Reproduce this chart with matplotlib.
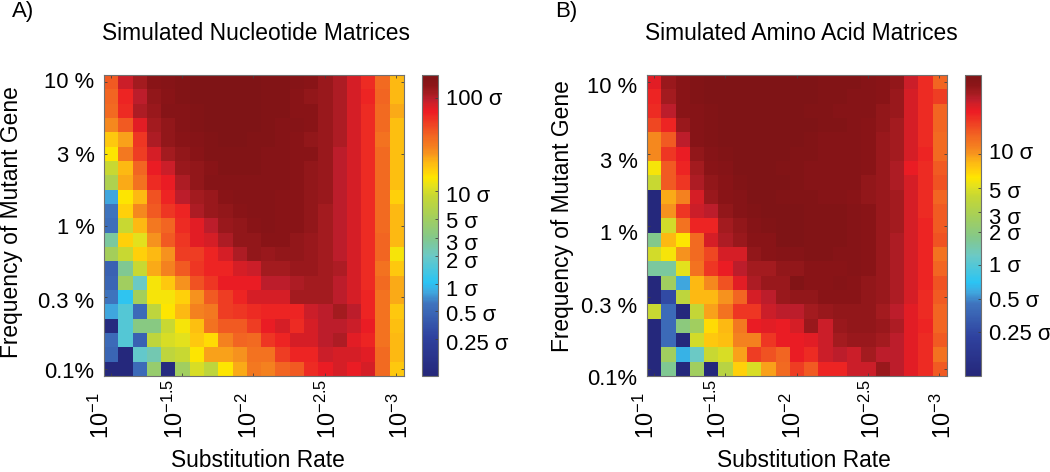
"""Heatmaps of simulated nucleotide / amino acid matrices (panels A and B)."""
import numpy as np
import matplotlib
matplotlib.use("Agg")
import matplotlib.pyplot as plt
from matplotlib.colors import LinearSegmentedColormap
from matplotlib.transforms import ScaledTranslation

plt.rcParams["font.family"] = ["Liberation Sans", "DejaVu Sans"]
plt.rcParams["mathtext.fontset"] = "custom"
plt.rcParams["mathtext.rm"] = "Liberation Sans"
plt.rcParams["mathtext.default"] = "regular"

RATE_LABELS = [r"$10^{-1}$", r"$10^{-1.5}$", r"$10^{-2}$", r"$10^{-2.5}$", r"$10^{-3}$"]
FREQ_LABELS = ["10 %", "3 %", "1 %", "0.3 %", "0.1%"]

# cell values as position on the colour scale (0-100), top row first
NUCLEOTIDE = np.array([
    [81, 91, 94, 97, 98, 99, 100, 100, 100, 100, 100, 99, 99, 98, 97, 95, 93, 90, 86, 79, 71],
    [80, 87, 92, 96, 97, 99, 100, 100, 100, 100, 100, 99, 99, 97, 96, 95, 93, 90, 87, 80, 71],
    [79, 86, 93, 95, 98, 98, 99, 100, 100, 100, 100, 99, 99, 97, 97, 95, 93, 90, 86, 79, 72],
    [75, 81, 89, 94, 96, 98, 99, 100, 100, 100, 100, 99, 98, 98, 97, 95, 93, 90, 86, 79, 70],
    [69, 73, 85, 93, 96, 97, 98, 99, 100, 100, 99, 99, 98, 97, 96, 95, 93, 90, 86, 78, 70],
    [66, 77, 84, 90, 94, 96, 97, 99, 99, 99, 99, 98, 98, 97, 97, 95, 92, 90, 86, 79, 70],
    [60, 71, 80, 88, 91, 95, 96, 97, 99, 99, 99, 98, 98, 97, 96, 95, 92, 90, 86, 79, 70],
    [55, 72, 78, 86, 88, 93, 96, 98, 98, 98, 98, 98, 98, 97, 96, 95, 92, 90, 86, 79, 70],
    [28, 66, 71, 82, 87, 92, 94, 95, 97, 98, 98, 98, 97, 97, 96, 95, 92, 90, 86, 79, 68],
    [24, 68, 75, 81, 85, 87, 93, 95, 96, 97, 98, 98, 97, 97, 96, 94, 92, 90, 86, 79, 71],
    [23, 60, 71, 77, 80, 86, 89, 92, 95, 96, 97, 98, 97, 97, 96, 94, 92, 90, 86, 79, 71],
    [44, 68, 63, 74, 81, 85, 89, 90, 93, 96, 96, 97, 97, 96, 95, 94, 92, 90, 86, 80, 71],
    [53, 60, 68, 71, 74, 84, 84, 87, 90, 93, 96, 95, 96, 96, 95, 94, 92, 90, 86, 80, 65],
    [20, 45, 60, 72, 76, 81, 85, 87, 87, 90, 91, 94, 94, 95, 95, 94, 93, 90, 86, 78, 69],
    [21, 52, 40, 65, 69, 74, 82, 85, 88, 88, 88, 92, 92, 93, 94, 94, 92, 90, 86, 79, 72],
    [24, 32, 53, 65, 65, 68, 74, 81, 84, 87, 90, 90, 90, 94, 94, 94, 92, 90, 87, 78, 72],
    [28, 37, 22, 58, 66, 71, 76, 77, 84, 85, 86, 87, 87, 87, 91, 92, 94, 92, 87, 78, 69],
    [2, 37, 47, 47, 60, 65, 70, 78, 81, 81, 84, 88, 90, 86, 90, 92, 92, 91, 88, 78, 70],
    [22, 37, 20, 58, 62, 63, 69, 67, 76, 80, 79, 85, 87, 90, 90, 92, 93, 89, 87, 78, 71],
    [21, 1, 39, 42, 58, 60, 66, 73, 73, 74, 78, 78, 84, 87, 87, 91, 90, 90, 89, 79, 71],
    [1, 1, 22, 50, 2, 52, 62, 58, 66, 72, 77, 76, 80, 81, 86, 88, 90, 88, 90, 79, 69],
])
AMINO_ACID = np.array([
    [89, 95, 97, 99, 100, 100, 100, 100, 100, 100, 100, 100, 99, 99, 99, 98, 97, 96, 91, 86, 80],
    [87, 94, 97, 99, 100, 100, 100, 100, 100, 100, 100, 100, 99, 99, 98, 98, 97, 95, 90, 86, 84],
    [86, 92, 97, 98, 99, 100, 100, 100, 100, 100, 100, 99, 99, 98, 98, 98, 96, 95, 90, 86, 80],
    [83, 87, 95, 98, 99, 100, 100, 100, 100, 100, 100, 100, 99, 99, 98, 97, 96, 94, 90, 86, 80],
    [75, 81, 92, 98, 99, 100, 100, 100, 100, 100, 100, 99, 98, 98, 98, 97, 95, 94, 90, 86, 79],
    [75, 85, 88, 96, 98, 99, 100, 100, 100, 100, 99, 99, 98, 98, 98, 97, 95, 94, 90, 87, 79],
    [65, 81, 87, 94, 97, 98, 100, 100, 100, 99, 99, 98, 98, 98, 98, 97, 95, 93, 88, 86, 81],
    [60, 81, 85, 93, 96, 97, 99, 100, 100, 100, 99, 98, 98, 98, 98, 96, 95, 93, 90, 86, 82],
    [1, 72, 76, 90, 95, 97, 98, 100, 100, 99, 99, 99, 98, 98, 97, 96, 95, 94, 90, 86, 80],
    [1, 74, 85, 91, 92, 96, 98, 99, 100, 100, 100, 99, 99, 99, 98, 97, 95, 94, 90, 86, 81],
    [1, 61, 78, 87, 87, 94, 96, 98, 99, 100, 100, 99, 99, 99, 98, 97, 95, 94, 90, 87, 81],
    [46, 71, 66, 79, 90, 93, 95, 97, 97, 100, 100, 99, 99, 99, 98, 97, 95, 93, 90, 87, 82],
    [61, 65, 74, 79, 83, 90, 90, 96, 97, 98, 98, 99, 99, 98, 98, 97, 95, 93, 90, 87, 78],
    [44, 44, 63, 78, 85, 88, 92, 94, 94, 96, 96, 97, 97, 97, 98, 97, 95, 93, 90, 87, 80],
    [1, 52, 28, 71, 75, 82, 89, 93, 95, 95, 99, 97, 97, 98, 97, 96, 95, 93, 90, 87, 82],
    [1, 15, 58, 71, 71, 74, 80, 90, 92, 95, 96, 96, 97, 97, 97, 96, 95, 93, 90, 86, 81],
    [60, 22, 1, 59, 73, 78, 85, 85, 91, 92, 92, 94, 95, 96, 96, 96, 94, 92, 89, 86, 80],
    [1, 22, 48, 52, 67, 71, 77, 88, 89, 88, 90, 95, 91, 95, 96, 96, 95, 93, 89, 87, 80],
    [1, 22, 1, 61, 69, 70, 76, 76, 85, 88, 88, 89, 91, 94, 95, 95, 94, 92, 89, 86, 81],
    [1, 52, 29, 40, 60, 62, 73, 84, 82, 80, 88, 86, 91, 92, 91, 94, 92, 92, 89, 86, 78],
    [1, 45, 1, 52, 1, 57, 68, 62, 73, 79, 84, 81, 87, 87, 91, 91, 95, 92, 89, 86, 81],
])

# colourbar ticks, as colour-scale position
NUC_TICKS = [12.2, 21.5, 30.7, 40.0, 45.7, 52.3, 61.6, 92.5]
NUC_LABELS = ["0.25 σ", "0.5 σ", "1 σ", "2 σ", "3 σ", "5 σ", "10 σ", "100 σ"]
AA_TICKS = [14.6, 25.7, 36.8, 47.8, 54.5, 62.3, 73.6]
AA_LABELS = ["0.25 σ", "0.5 σ", "1 σ", "2 σ", "3 σ", "5 σ", "10 σ"]

# hand placed labels in the original: px shifts
NUC_BAR_NUDGE = [3, 2, 4, 4, 4, 1, 3, -1]
AA_BAR_NUDGE = [0, 0, -1, 0, 4, 2, -3]
NUC_X_NUDGE = [-9, -7, -4.5, 3, 4]
AA_X_NUDGE = [-7.5, -7, -3.5, 4, 3.5]
NUC_Y_NUDGE = [-2, 0, 1, 3, 1]
AA_Y_NUDGE = [3, 6, 7, 8, 8]

CMAP = LinearSegmentedColormap.from_list("sigma", [
    (0.00, "#25277a"), (0.13, "#2f429f"), (0.24, "#3f74be"), (0.28, "#3fa9e0"),
    (0.31, "#2ac4f4"), (0.40, "#6cc9c5"), (0.46, "#84c88a"), (0.53, "#a5cf5a"),
    (0.60, "#c8d832"), (0.63, "#e2e11f"), (0.66, "#ffe600"), (0.69, "#ffc90e"),
    (0.71, "#fdb913"), (0.74, "#f7941e"), (0.77, "#f47a20"), (0.80, "#f26522"),
    (0.84, "#ef4023"), (0.88, "#ed1c24"), (0.90, "#d81f26"), (0.92, "#be1e2d"),
    (0.94, "#a51c20"), (0.97, "#8b1518"), (1.00, "#7f1416"),
], N=256)

W, H = 1050, 472
SPINE = "#707070"
FS_TICK = 15.8
FS_LABEL = 16.4


def axes_px(fig, x0, x1, y0, y1):
    return fig.add_axes([x0 / W, 1 - y1 / H, (x1 - x0) / W, (y1 - y0) / H])


def nudge_labels(fig, labels, shifts):
    # shifts in px, positive is down
    for lab, dy in zip(labels, shifts):
        lab.set_transform(lab.get_transform() + ScaledTranslation(0, -dy / 100, fig.dpi_scale_trans))


def draw_panel(fig, data, title, letter, x0, cx0, ticks, labels, bar_nudge, x_nudge, y_nudge,
               title_x, ylab_x, ylab_y, xlab_x, letter_x):
    ax = axes_px(fig, x0, x0 + 300, 75, 376)
    im = ax.imshow(data, cmap=CMAP, vmin=0, vmax=100, aspect="auto", interpolation="nearest")
    ax.set_xticks(np.arange(0, 21, 5))
    ax.set_xticklabels([])
    ax.set_yticks(np.arange(0, 21, 5))
    ax.set_yticklabels(FREQ_LABELS, fontsize=FS_TICK)
    ax.tick_params(direction="in", length=2.5, width=0.6, color="#404040", top=True, right=True)
    ax.tick_params(axis="y", pad=6.5)
    nudge_labels(fig, ax.get_yticklabels(), y_nudge)
    for s in ax.spines.values():
        s.set_color(SPINE)
        s.set_linewidth(0.8)
    # rotated rate labels share a bottom line (px 439), not a top one
    for pos, lab, dx in zip(np.arange(0, 21, 5), RATE_LABELS, x_nudge):
        ax.annotate(lab, xy=(pos, 0), xycoords=ax.get_xaxis_transform(),
                    xytext=(dx * 0.72, -63 * 0.72), textcoords="offset points",
                    rotation=90, ha="center", va="bottom", fontsize=17, annotation_clip=False)
    fig.text(title_x / W, 1 - 33 / H, title, ha="center", va="center", fontsize=FS_LABEL)
    fig.text(xlab_x / W, 1 - 467 / H, "Substitution Rate", ha="center", va="baseline", fontsize=FS_LABEL)
    fig.text(ylab_x / W, 1 - ylab_y / H, "Frequency of Mutant Gene", ha="center", va="center",
             rotation=90, fontsize=FS_LABEL)
    fig.text(letter_x / W, 1 - 12 / H, letter, ha="left", va="center", fontsize=16)

    cax = axes_px(fig, cx0, cx0 + 16, 75, 376)
    cb = fig.colorbar(im, cax=cax, ticks=ticks)
    cb.set_ticklabels(labels, fontsize=FS_TICK)
    cax.tick_params(direction="in", length=2, width=0.6, color="#404040", pad=6)
    cb.outline.set_edgecolor(SPINE)
    cb.outline.set_linewidth(0.8)
    nudge_labels(fig, cax.get_yticklabels(), bar_nudge)


fig = plt.figure(figsize=(W / 100, H / 100), dpi=100)
draw_panel(fig, NUCLEOTIDE, "Simulated Nucleotide Matrices", "A)", 103.5, 422, NUC_TICKS, NUC_LABELS,
           NUC_BAR_NUDGE, NUC_X_NUDGE, NUC_Y_NUDGE, 255.5, 12, 222, 258, 12)
draw_panel(fig, AMINO_ACID, "Simulated Amino Acid Matrices", "B)", 646.5, 965, AA_TICKS, AA_LABELS,
           AA_BAR_NUDGE, AA_X_NUDGE, AA_Y_NUDGE, 801, 563, 216, 804, 555)
fig.savefig("out.png", dpi=100)
